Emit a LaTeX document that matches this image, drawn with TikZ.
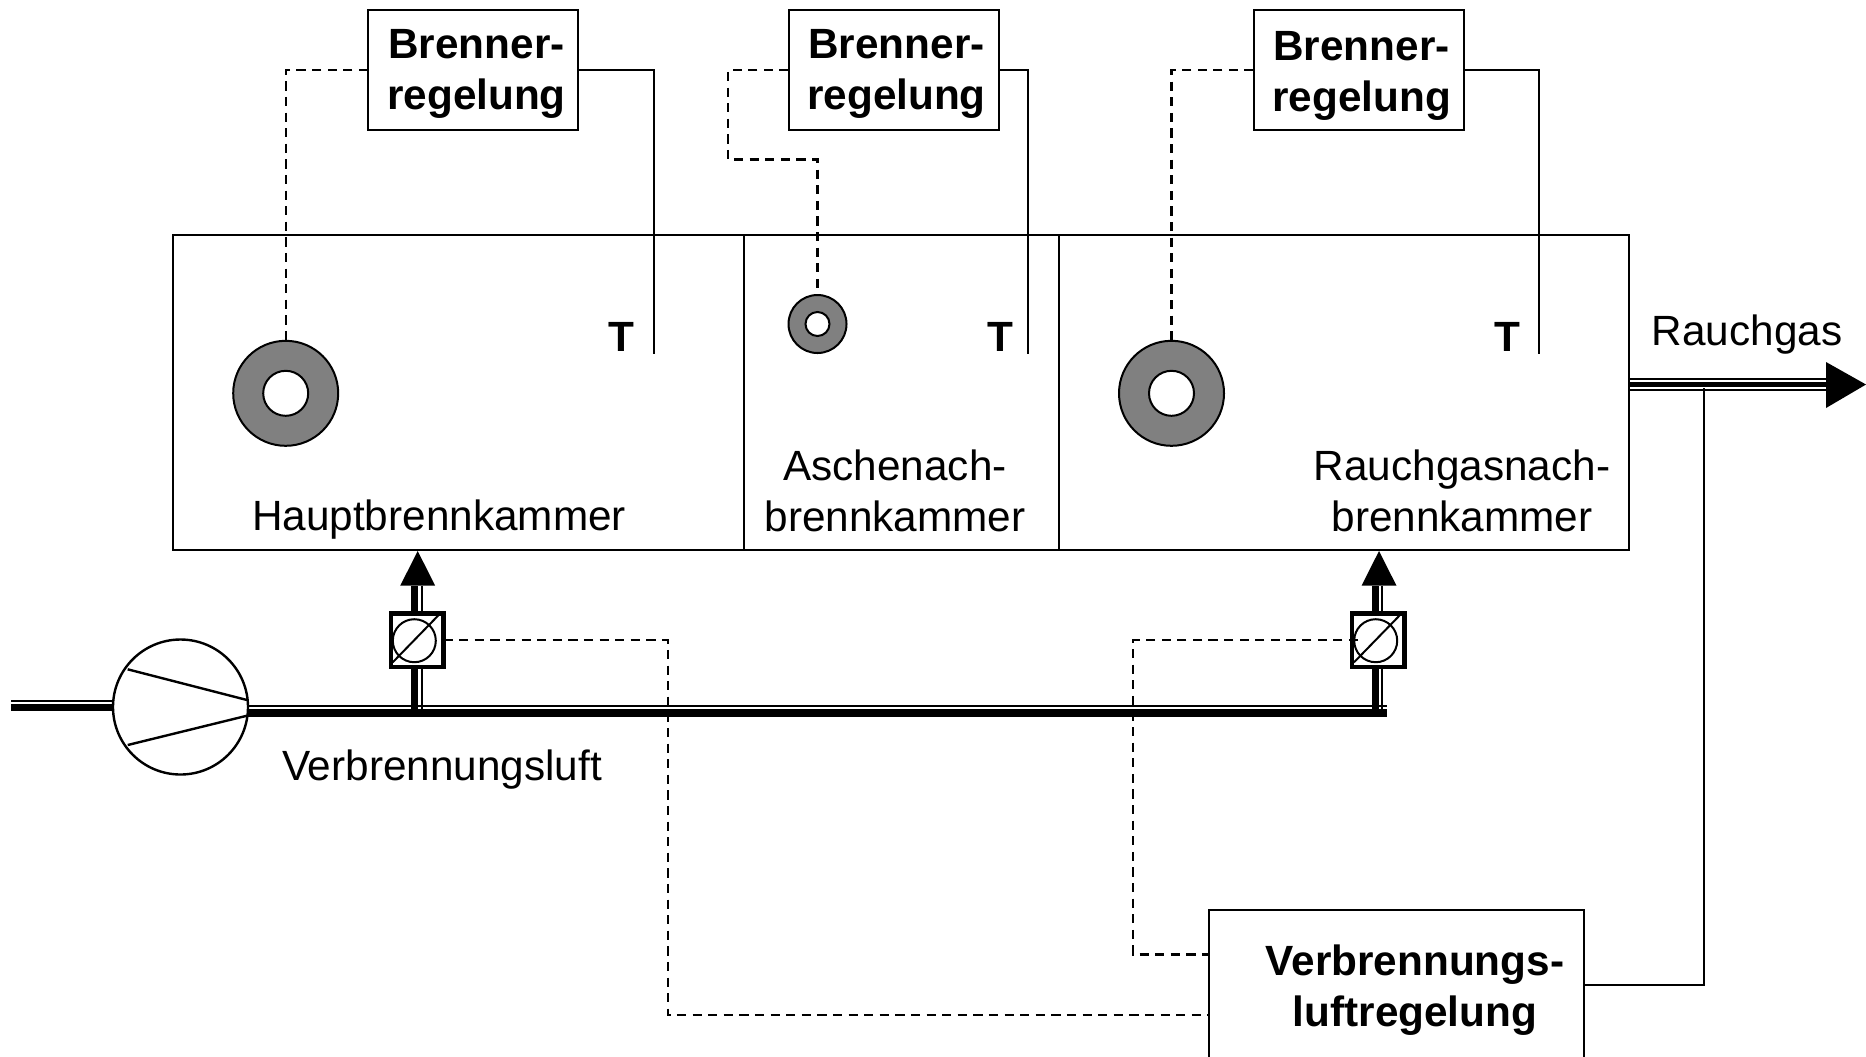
\documentclass[tikz,border=0pt]{standalone}
\usepackage{fontspec}
\setmainfont{Liberation Sans}
\usetikzlibrary{arrows.meta}
\tikzset{
  px/.style={x=0.5pt,y=-0.5pt},
  line/.style={line width=1pt,black},
  ctrl/.style={line width=1.1pt,black,dash pattern=on 4.6pt off 3.2pt},
  boxn/.style={draw,line width=1pt,inner sep=0pt,outer sep=0pt,fill=white},
  brn/.style={boxn,minimum width=105pt,minimum height=60pt},
  lbl/.style={align=center,inner sep=0pt,font=\fontsize{21.15}{25.5}\selectfont},
  blbl/.style={lbl,font=\fontsize{21.15}{25.5}\selectfont\bfseries},
  outer ring/.style={circle,draw,line width=1pt,fill=black!50,inner sep=0pt,outer sep=0pt},
  hole/.style={circle,draw,line width=1pt,fill=white,inner sep=0pt,outer sep=0pt},
  damper/.style={rectangle,draw,line width=2.3pt,fill=white,inner sep=0pt,outer sep=0pt,minimum width=26.3pt,minimum height=26.8pt},
  damphole/.style={circle,draw,line width=1pt,inner sep=0pt,outer sep=0pt,minimum size=21.5pt},
  thick pipe/.style={line width=3.6pt,black},
  thin pipe/.style={line width=1pt,black},
}
\begin{document}
\begin{tikzpicture}[px]
\path[use as bounding box,clip] (0,0) rectangle (1866,1056);
\fill[white] (0,0) rectangle (1866,1056);

% chambers
\node[boxn,minimum width=285.75pt,minimum height=157.75pt] (hb) at (458.25,392.25) {};
\node[boxn,minimum width=157.25pt,minimum height=157.75pt] (an) at (901.25,392.25) {};
\node[boxn,minimum width=285pt,minimum height=157.75pt] (rg) at (1343.5,392.25) {};

% burner controllers
\node[brn] (b1) at (473,70) {};
\node[brn] (b2) at (893.5,70) {};
\node[brn] (b3) at (1358.5,70) {};
\node[blbl] (t1) at (476.5,74) {Brenner-\\regelung};
\node[blbl] (t2) at (896.5,74) {Brenner-\\regelung};
\node[blbl] (t3) at (1361.5,76) {Brenner-\\regelung};

% burners
\node[outer ring,minimum size=52.5pt] (r1) at (285.7,393.3) {};
\node[hole,minimum size=22.5pt] (h1) at (r1.center) {};
\node[outer ring,minimum size=29pt] (r2) at (817.5,324) {};
\node[hole,minimum size=12pt] (h2) at (r2.center) {};
\node[outer ring,minimum size=52.5pt] (r3) at (1171.5,393.3) {};
\node[hole,minimum size=22.5pt] (h3) at (r3.center) {};

% sensors
\node[blbl] (T1) at (621.5,337) {T};
\node[blbl] (T2) at (1000.5,337) {T};
\node[blbl] (T3) at (1507,337) {T};
\coordinate (s1) at (653.5,354);
\coordinate (s2) at (1028,354);
\coordinate (s3) at (1538.7,354);
\draw[line] (b1.east) -| (s1);
\draw[line] (b2.east) -| (s2);
\draw[line] (b3.east) -| (s3);

% burner control lines
\draw[ctrl] (b1.west) -| (r1.north);
\coordinate (k1) at (728,159.5);
\draw[ctrl] (b2.west) -| (k1) -| (r2.north);
\draw[ctrl] (b3.west) -| (r3.north);

% chamber labels
\node[lbl] (l1) at (439,520) {Hauptbrennkammer};
\node[lbl] (l2) at (895,490.5) {Aschenach-\\brennkammer};
\node[lbl] (l3) at (1462,490.5) {Rauchgasnach-\\brennkammer};

% flue gas
\coordinate (fgA) at (1826,378.5);
\coordinate (fgB) at (1826,384.5);
\coordinate (fgC) at (1826,390);
\coordinate (fgT) at (1866,384.5);
\coordinate (fgU) at (1826,362);
\coordinate (fgD) at (1826,408);
\draw[thin pipe] (rg.east |- fgA) -- (fgA);
\draw[line width=2.2pt] (rg.east |- fgB) -- (fgB);
\draw[thin pipe] (rg.east |- fgC) -- (fgC);
\fill (fgU) -- (fgT) -- (fgD) -- cycle;
\node[lbl] (rgl) at (1747,335) {Rauchgas};

% air controller
\node[boxn,minimum width=187.5pt,minimum height=95pt] (vr) at (1396.5,1005) {};
\node[blbl] (vrl) at (1415,990) {Verbrennungs-\\luftregelung};
\coordinate (tap) at (1704,388);
\coordinate (vrE) at (1584,985);
\draw[line] (tap) |- (vrE);

% air pipe
\coordinate (inA) at (11,700.7);
\coordinate (inB) at (11,707.7);
\coordinate (pT) at (1386.7,706);
\coordinate (pK) at (1386.7,713);
\coordinate (fanE) at (248,706);
\draw[thin pipe] (inA) -- (180,700.7);
\draw[thick pipe] (inB) -- (180,707.7);
\draw[thin pipe] (fanE) -- (pT);
\draw[thick pipe] (fanE |- pK) -- (pK);

% dampers and branch pipes
\coordinate (a1) at (417.7,551);
\coordinate (a1b) at (417.7,585.7);
\coordinate (a1l) at (400.2,585.7);
\coordinate (a1r) at (435.2,585.7);
\coordinate (a2) at (1379,551);
\coordinate (a2b) at (1379,585.7);
\coordinate (a2l) at (1361.5,585.7);
\coordinate (a2r) at (1396.5,585.7);
\coordinate (bk1) at (414.3,713);
\coordinate (bt1) at (421.7,713);
\coordinate (bk2) at (1375.7,713);
\coordinate (bt2) at (1382.3,713);
\draw[thick pipe] (bk1) -- (bk1 |- a1b);
\draw[thin pipe] (bt1) -- (bt1 |- a1b);
\draw[thick pipe] (bk2) -- (bk2 |- a2b);
\draw[thin pipe] (bt2) -- (bt2 |- a2b);
\fill (a1) -- (a1l) -- (a1r) -- cycle;
\fill (a2) -- (a2l) -- (a2r) -- cycle;

\node[damper] (d1) at (417.2,640) {};
\node[damper] (d2) at (1378.3,640) {};
\node[damphole] (c1) at (414.3,640.7) {};
\node[damphole] (c2) at (1375.7,640.7) {};
\draw[line width=1pt] (392.7,662.3) -- (438.7,615);
\draw[line width=1pt] (1354,662.3) -- (1400,615);

% air control lines
\coordinate (cl1) at (667.6,1015);
\coordinate (cr1) at (1209,1015);
\coordinate (cl2) at (1133,954.5);
\coordinate (cr2) at (1209,954.5);
\coordinate (d2in) at (1358,640);
\draw[ctrl] (d1.east) -| (cl1) -- (cr1);
\draw[ctrl] (d2in) -| (cl2) -- (cr2);

% fan
\node[circle,boxn,line width=1.2pt,minimum size=67.5pt] (fan) at (180.5,707) {};
\coordinate (v1a) at (127.7,669.3);
\coordinate (v1b) at (247,700);
\coordinate (v2a) at (127.7,745);
\coordinate (v2b) at (247,715.7);
\draw[line width=1.2pt] (v1a) -- (v1b);
\draw[line width=1.2pt] (v2a) -- (v2b);

% air label
\node[lbl] (vl) at (442,770) {Verbrennungsluft};
\end{tikzpicture}
\end{document}
